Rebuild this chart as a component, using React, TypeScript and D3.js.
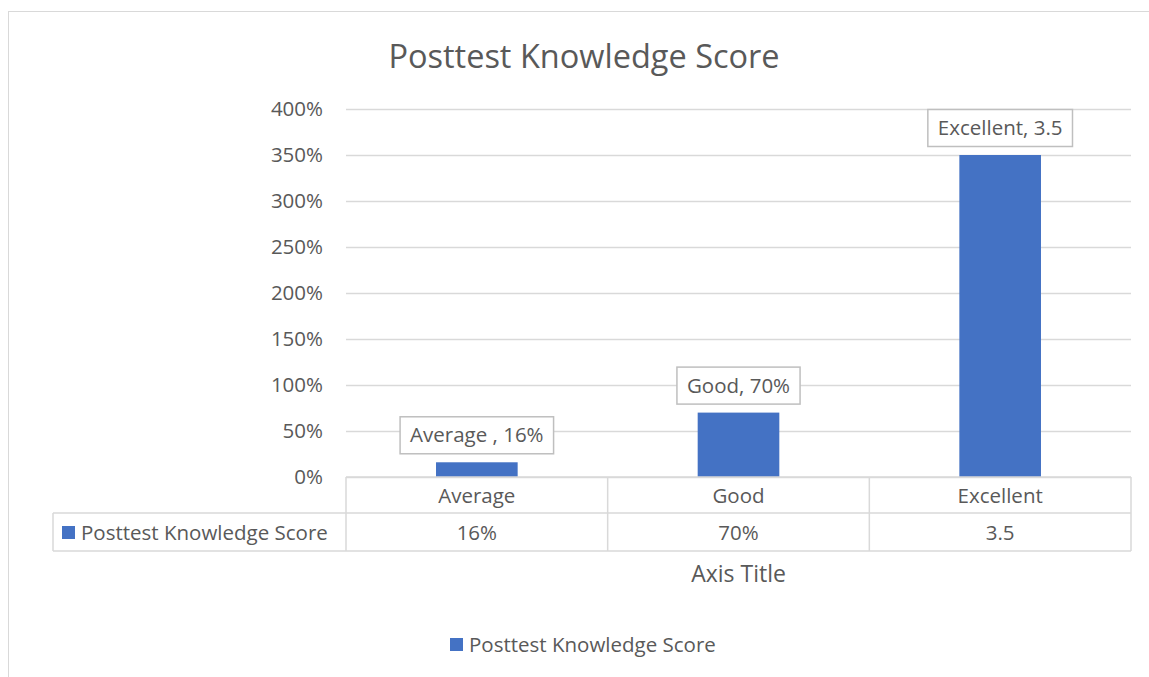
import React, { useEffect, useRef } from "react";
import * as d3 from "d3";

const categories = ["Average", "Good", "Excellent"];
const values = [0.16, 0.7, 3.5];
const tableLabels = ["16%", "70%", "3.5"];
const dataLabels = ["Average , 16%", "Good, 70%", "Excellent, 3.5"];
const yTicks = [0, 0.5, 1, 1.5, 2, 2.5, 3, 3.5, 4];
const seriesName = "Posttest Knowledge Score";

const FONT = "'Open Sans', sans-serif";
const TEXT = "#595959";
const GRID = "#d9d9d9";
const BAR = "#4472c4";
const FS = 20.5;

export default function App() {
  const svgRef = useRef<SVGSVGElement>(null);

  useEffect(() => {
    const svg = d3.select(svgRef.current);
    svg.selectAll("*").remove();

    const width = 1149,
      height = 677;
    const plot = { left: 346, right: 1131, top: 109, bottom: 477 };

    // chart frame
    svg
      .append("rect")
      .attr("x", 8.5)
      .attr("y", 11.5)
      .attr("width", width)
      .attr("height", height)
      .attr("fill", "white")
      .attr("stroke", GRID);

    var x = d3
      .scaleBand()
      .domain(categories)
      .range([plot.left, plot.right])
      .paddingInner(0.688)
      .paddingOuter(0.344);
    var xCell = d3.scaleBand().domain(categories).range([plot.left, plot.right]);
    var y = d3.scaleLinear().domain([0, 4]).range([plot.bottom, plot.top]);

    svg
      .append("text")
      .attr("x", 584)
      .attr("y", 68)
      .attr("text-anchor", "middle")
      .attr("font-family", FONT)
      .attr("font-size", 32.5)
      .attr("fill", TEXT)
      .text(seriesName);

    // gridlines
    svg
      .append("g")
      .selectAll("line")
      .data(yTicks)
      .join("line")
      .attr("x1", plot.left)
      .attr("x2", plot.right)
      .attr("y1", (d) => Math.round(y(d)) + 0.5)
      .attr("y2", (d) => Math.round(y(d)) + 0.5)
      .attr("stroke", GRID)
      .attr("stroke-width", 1.3);

    svg
      .append("g")
      .selectAll("text")
      .data(yTicks)
      .join("text")
      .attr("x", 323)
      .attr("y", (d) => y(d))
      .attr("dy", "0.35em")
      .attr("text-anchor", "end")
      .attr("font-family", FONT)
      .attr("font-size", FS)
      .attr("fill", TEXT)
      .text((d) => d3.format(".0%")(d));

    // bars
    svg
      .append("g")
      .selectAll("rect")
      .data(values)
      .join("rect")
      .attr("x", (d, i) => x(categories[i]))
      .attr("width", x.bandwidth())
      .attr("y", (d) => y(d))
      .attr("height", (d) => y(0) - y(d))
      .attr("fill", BAR);

    // data labels
    const lab = svg
      .append("g")
      .selectAll("g")
      .data(values)
      .join("g")
      .attr("transform", (d, i) => {
        const cx = x(categories[i]) + x.bandwidth() / 2;
        return `translate(${cx}, ${y(d) - 27})`;
      });
    lab
      .append("text")
      .attr("text-anchor", "middle")
      .attr("dy", "0.35em")
      .attr("font-family", FONT)
      .attr("font-size", FS)
      .attr("fill", TEXT)
      .text((d, i) => dataLabels[i]);
    lab.each(function () {
      const g = d3.select(this);
      const bb = (g.select("text").node() as SVGTextElement).getBBox();
      g.insert("rect", "text")
        .attr("x", bb.x - 10)
        .attr("y", -18.5)
        .attr("width", bb.width + 20)
        .attr("height", 37)
        .attr("fill", "white")
        .attr("stroke", "#bfbfbf")
        .attr("stroke-width", 1.5);
    });

    // data table
    const t1 = plot.bottom,
      t2 = 513,
      t3 = 551,
      tLeft = 53;
    const tg = svg.append("g").attr("stroke", GRID).attr("stroke-width", 1.5);
    tg.append("line").attr("x1", plot.left).attr("x2", plot.right).attr("y1", t1).attr("y2", t1);
    tg.append("line").attr("x1", tLeft).attr("x2", plot.right).attr("y1", t2).attr("y2", t2);
    tg.append("line").attr("x1", tLeft).attr("x2", plot.right).attr("y1", t3).attr("y2", t3);
    tg.append("line").attr("x1", tLeft).attr("x2", tLeft).attr("y1", t2).attr("y2", t3);
    tg.selectAll("line.v")
      .data(categories)
      .join("line")
      .attr("class", "v")
      .attr("x1", (d) => xCell(d))
      .attr("x2", (d) => xCell(d))
      .attr("y1", t1)
      .attr("y2", t3);
    tg.append("line").attr("x1", plot.right).attr("x2", plot.right).attr("y1", t1).attr("y2", t3);

    svg
      .append("g")
      .selectAll("text")
      .data(categories)
      .join("text")
      .attr("x", (d) => xCell(d) + xCell.bandwidth() / 2)
      .attr("y", (t1 + t2) / 2 + 1)
      .attr("dy", "0.35em")
      .attr("text-anchor", "middle")
      .attr("font-family", FONT)
      .attr("font-size", FS)
      .attr("fill", TEXT)
      .text((d) => d);

    svg
      .append("g")
      .selectAll("text")
      .data(tableLabels)
      .join("text")
      .attr("x", (d, i) => xCell(categories[i]) + xCell.bandwidth() / 2)
      .attr("y", (t2 + t3) / 2 + 1)
      .attr("dy", "0.35em")
      .attr("text-anchor", "middle")
      .attr("font-family", FONT)
      .attr("font-size", FS)
      .attr("fill", TEXT)
      .text((d) => d);

    svg
      .append("rect")
      .attr("x", 62)
      .attr("y", (t2 + t3) / 2 - 6)
      .attr("width", 13)
      .attr("height", 13)
      .attr("fill", BAR);
    svg
      .append("text")
      .attr("x", 81)
      .attr("y", (t2 + t3) / 2 + 1)
      .attr("dy", "0.35em")
      .attr("font-family", FONT)
      .attr("font-size", FS)
      .attr("fill", TEXT)
      .text(seriesName);

    // axis title
    svg
      .append("text")
      .attr("x", (plot.left + plot.right) / 2)
      .attr("y", 574)
      .attr("dy", "0.35em")
      .attr("text-anchor", "middle")
      .attr("font-family", FONT)
      .attr("font-size", 23)
      .attr("fill", TEXT)
      .text("Axis Title");

    // legend
    svg
      .append("rect")
      .attr("x", 450)
      .attr("y", 638)
      .attr("width", 13)
      .attr("height", 13)
      .attr("fill", BAR);
    svg
      .append("text")
      .attr("x", 469)
      .attr("y", 645)
      .attr("dy", "0.35em")
      .attr("font-family", FONT)
      .attr("font-size", FS)
      .attr("fill", TEXT)
      .text(seriesName);
  }, []);

  return (
    <div style={{ position: "absolute", left: 0, top: 0 }}>
      <svg ref={svgRef} width={1149} height={677} style={{ display: "block" }}></svg>
    </div>
  );
}
